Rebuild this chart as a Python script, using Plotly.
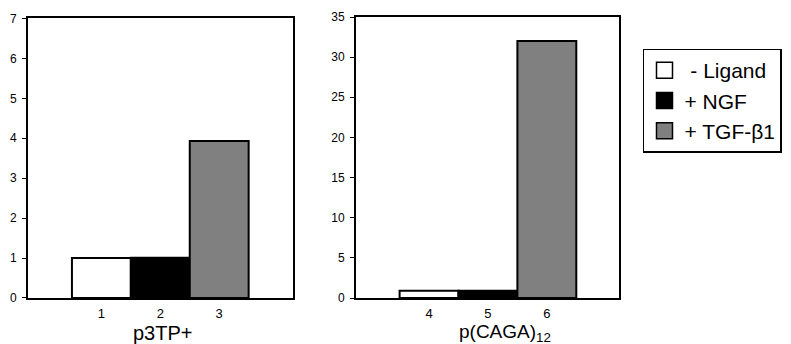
import plotly.graph_objects as go

# Reporter activity for two TGF-beta responsive constructs
series_names = ["\u00a0- Ligand", "+ NGF", "+ TGF-\u03b21"]
series_colors = ["#ffffff", "#000000", "#808080"]

p3tp_lanes = [1, 2, 3]
p3tp_values = [1.0, 1.01, 3.93]

caga_lanes = [4, 5, 6]
caga_values = [0.9, 0.9, 32.0]

p3tp_ticks = [0, 1, 2, 3, 4, 5, 6, 7]
caga_ticks = [0, 5, 10, 15, 20, 25, 30, 35]

FONT = "Arial, Liberation Sans, sans-serif"

fig = go.Figure()

fig.add_trace(go.Bar(
    x=p3tp_lanes, y=p3tp_values, width=1,
    marker=dict(color=series_colors, line=dict(color="black", width=2)),
    showlegend=False, xaxis="x", yaxis="y",
))
fig.add_trace(go.Bar(
    x=caga_lanes, y=caga_values, width=1,
    marker=dict(color=series_colors, line=dict(color="black", width=2)),
    showlegend=False, xaxis="x2", yaxis="y2",
))

# legend entries
for name, color in zip(series_names, series_colors):
    fig.add_trace(go.Scatter(
        x=[None], y=[None], mode="markers", name=name,
        marker=dict(symbol="square", size=16, color=color,
                    line=dict(color="black", width=1.5)),
        xaxis="x", yaxis="y",
    ))

axis_common = dict(showline=True, linecolor="black", linewidth=2, mirror=True,
                   showgrid=False, zeroline=False)

fig.update_layout(
    width=791, height=344,
    margin=dict(l=27.7, r=172.3, t=17, b=46, autoexpand=False),
    paper_bgcolor="white", plot_bgcolor="white",
    font=dict(family=FONT, color="black"),
    barmode="overlay",
    xaxis=dict(domain=[0, 0.4489], range=[-0.246, 4.258],
               tickvals=p3tp_lanes, ticktext=[str(v) for v in p3tp_lanes],
               ticks="", tickfont=dict(size=13), ticklabelstandoff=2,
               **axis_common),
    yaxis=dict(domain=[0, 0.9947], range=[0, 7], tickvals=p3tp_ticks,
               ticks="outside", ticklen=4, tickwidth=1, tickcolor="black",
               tickfont=dict(size=12), ticklabelstandoff=3, **axis_common),
    xaxis2=dict(domain=[0.555, 1], range=[2.760, 7.225], anchor="y2",
                tickvals=caga_lanes, ticktext=[str(v) for v in caga_lanes],
                ticks="", tickfont=dict(size=13), ticklabelstandoff=2,
                **axis_common),
    yaxis2=dict(domain=[0, 1], range=[0, 35], anchor="x2", tickvals=caga_ticks,
                ticks="outside", ticklen=4, tickwidth=1, tickcolor="black",
                tickfont=dict(size=12), ticklabelstandoff=3, **axis_common),
    legend=dict(x=1.0406, y=0.8875, xanchor="left", yanchor="top",
                bordercolor="black", borderwidth=1.5, bgcolor="white",
                font=dict(size=21, family=FONT), itemsizing="trace",
                tracegroupgap=0),
    annotations=[
        dict(text="p3TP+", xref="paper", yref="paper", x=0.2272, y=-0.126,
             xanchor="center", yanchor="middle", showarrow=False,
             font=dict(size=20)),
        dict(text="p(CAGA)<sub>12</sub>", xref="paper", yref="paper",
             x=0.8076, y=-0.124, xanchor="center", yanchor="middle",
             showarrow=False, font=dict(size=19)),
    ],
)

fig.write_html("out.html")
